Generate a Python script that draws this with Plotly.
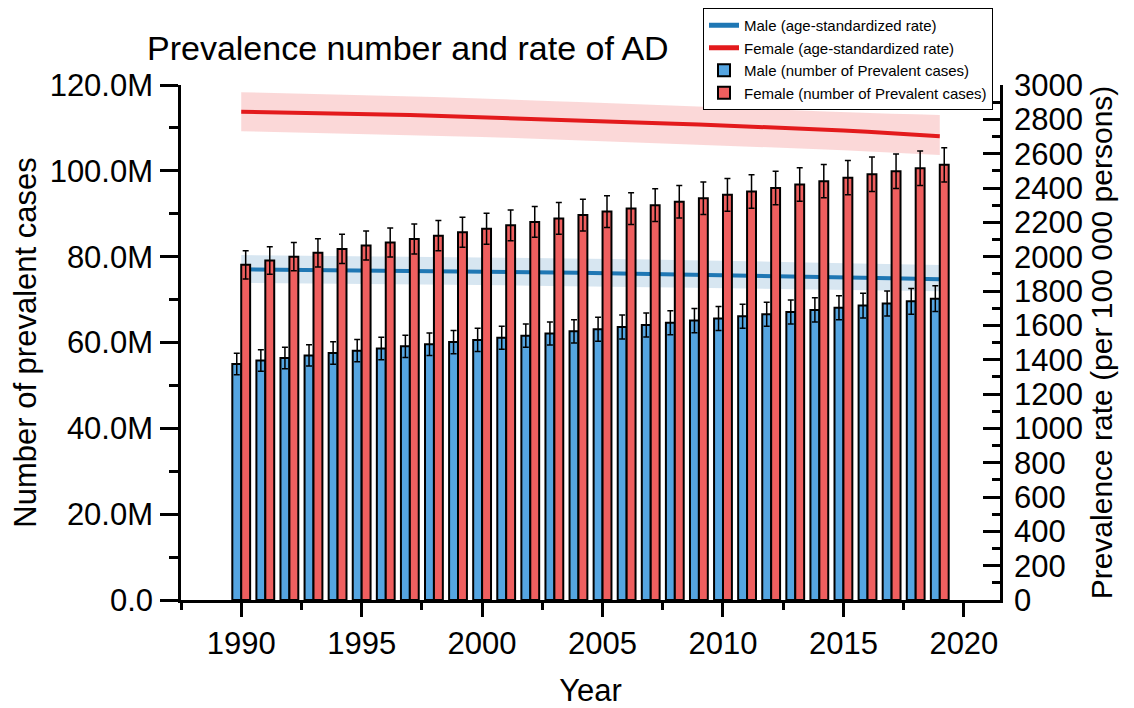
import plotly.graph_objects as go

years = list(range(1990, 2020))

# number of prevalent cases (millions)
male_cases = [55.0, 55.8, 56.4, 57.0, 57.55, 58.1, 58.6, 59.1, 59.6, 60.1,
              60.6, 61.1, 61.6, 62.1, 62.6, 63.1, 63.6, 64.1, 64.6, 65.1,
              65.6, 66.1, 66.6, 67.1, 67.6, 68.1, 68.6, 69.1, 69.6, 70.2]
female_cases = [78.1, 79.1, 80.0, 80.9, 81.8, 82.6, 83.3, 84.1, 84.9, 85.7,
                86.5, 87.3, 88.1, 88.9, 89.7, 90.5, 91.2, 92.0, 92.8, 93.6,
                94.4, 95.2, 96.0, 96.8, 97.6, 98.4, 99.2, 99.9, 100.6, 101.4]
male_err = [2.5, 2.5, 2.5, 2.5, 2.6, 2.6, 2.6, 2.6, 2.6, 2.7,
            2.7, 2.7, 2.7, 2.7, 2.7, 2.8, 2.8, 2.8, 2.8, 2.8,
            2.8, 2.8, 2.8, 2.8, 2.8, 2.8, 2.9, 2.9, 3.0, 3.0]
female_err = [3.3, 3.2, 3.3, 3.3, 3.4, 3.4, 3.4, 3.5, 3.5, 3.5,
              3.6, 3.6, 3.6, 3.7, 3.7, 3.7, 3.7, 3.8, 3.8, 3.8,
              3.8, 3.9, 3.9, 3.9, 3.9, 4.0, 4.0, 4.0, 4.0, 4.0]

# age-standardized rate (per 100 000)
male_rate = [1926, 1925, 1924, 1923, 1922, 1920, 1919, 1917, 1916, 1914,
             1912, 1911, 1909, 1908, 1906, 1904, 1902, 1900, 1898, 1896,
             1893, 1891, 1888, 1885, 1881, 1879, 1877, 1874, 1871, 1868]
male_hi = [2009, 2008, 2007, 2006, 2005, 2003, 2002, 2000, 1999, 1997,
           1995, 1994, 1992, 1991, 1989, 1987, 1985, 1983, 1981, 1979,
           1976, 1974, 1971, 1968, 1964, 1962, 1960, 1957, 1954, 1951]
male_lo = [1848, 1847, 1846, 1845, 1844, 1842, 1841, 1839, 1838, 1836,
           1834, 1833, 1831, 1830, 1828, 1826, 1824, 1822, 1820, 1818,
           1815, 1813, 1811, 1809, 1807, 1805, 1803, 1802, 1800, 1799]
female_rate = [2844, 2842, 2840, 2837, 2835, 2832, 2829, 2825, 2821, 2817,
               2812, 2808, 2803, 2799, 2794, 2790, 2785, 2780, 2775, 2770,
               2765, 2759, 2753, 2747, 2741, 2735, 2727, 2719, 2710, 2702]
female_hi = [2958, 2955, 2952, 2949, 2946, 2942, 2938, 2934, 2930, 2926,
             2920, 2916, 2911, 2906, 2901, 2896, 2891, 2886, 2881, 2876,
             2871, 2865, 2859, 2853, 2847, 2841, 2837, 2833, 2829, 2825]
female_lo = [2731, 2728, 2725, 2721, 2718, 2714, 2710, 2707, 2703, 2700,
             2697, 2693, 2688, 2684, 2679, 2675, 2670, 2665, 2660, 2655,
             2650, 2644, 2638, 2632, 2626, 2620, 2613, 2606, 2599, 2592]

left_ticks = [0, 20, 40, 60, 80, 100, 120]
left_labels = ["0.0", "20.0M", "40.0M", "60.0M", "80.0M", "100.0M", "120.0M"]

M = 1e6
FONT = "Liberation Sans, Arial, sans-serif"
# the page body adds an 8px margin, so the figure is 8px smaller than the window
W, H = 1126, 700

fig = go.Figure()

# rate bands + lines (on the right axis, drawn under the bars)
fig.add_trace(go.Scatter(x=years, y=male_lo, mode="lines", line=dict(width=0),
                         showlegend=False, hoverinfo="skip", yaxis="y"))
fig.add_trace(go.Scatter(x=years, y=male_hi, mode="lines", line=dict(width=0),
                         fill="tonexty", fillcolor="rgba(31,119,180,0.18)",
                         showlegend=False, hoverinfo="skip", yaxis="y"))
fig.add_trace(go.Scatter(x=years, y=female_lo, mode="lines", line=dict(width=0),
                         showlegend=False, hoverinfo="skip", yaxis="y"))
fig.add_trace(go.Scatter(x=years, y=female_hi, mode="lines", line=dict(width=0),
                         fill="tonexty", fillcolor="rgba(240,90,90,0.24)",
                         showlegend=False, hoverinfo="skip", yaxis="y"))
fig.add_trace(go.Scatter(x=years, y=male_rate, mode="lines", name="Male (age-standardized rate)",
                         line=dict(color="#1f77b4", width=4), yaxis="y"))
fig.add_trace(go.Scatter(x=years, y=female_rate, mode="lines", name="Female (age-standardized rate)",
                         line=dict(color="#e31a1c", width=4), yaxis="y"))

# bars (left axis)
fig.add_trace(go.Bar(x=years, y=[v * M for v in male_cases], name="Male (number of Prevalent cases)",
                     offset=-0.37, width=0.37, marker=dict(color="#55a5e1", line=dict(color="black", width=2)),
                     error_y=dict(type="data", array=[e * M for e in male_err], color="black",
                                  thickness=1.5, width=3),
                     yaxis="y2"))
fig.add_trace(go.Bar(x=years, y=[v * M for v in female_cases], name="Female (number of Prevalent cases)",
                     offset=0, width=0.37, marker=dict(color="#ef5f5f", line=dict(color="black", width=2)),
                     error_y=dict(type="data", array=[e * M for e in female_err], color="black",
                                  thickness=1.5, width=3),
                     yaxis="y2"))

fig.update_layout(
    width=W, height=H,
    margin=dict(l=173, r=134, t=77, b=108, autoexpand=False),
    plot_bgcolor="white", paper_bgcolor="white",
    font=dict(family=FONT, color="black"),
    title=dict(text="Prevalence number and rate of AD", font=dict(size=34),
               x=139 / W, xanchor="left", y=1 - 40 / H, yanchor="middle"),
    barmode="group",
    xaxis=dict(range=[1987.5, 2021.5], tick0=1990, dtick=5, showgrid=False,
               showline=True, linewidth=2.5, linecolor="black",
               ticks="outside", ticklen=14, tickwidth=2.5, tickcolor="black",
               minor=dict(ticks="outside", ticklen=7, tickwidth=2.5, tickcolor="black", dtick=2.5),
               tickfont=dict(size=31), ticklabelstandoff=0,
               title=dict(text="Year", font=dict(size=31), standoff=20),
               zeroline=False, automargin=False),
    yaxis=dict(range=[0, 3000], side="right", dtick=200, showgrid=False,
               showline=True, linewidth=2.5, linecolor="black",
               ticks="inside", ticklen=17, tickwidth=2.5, tickcolor="black",
               minor=dict(ticks="inside", ticklen=8, tickwidth=2.5, tickcolor="black", dtick=100),
               tickfont=dict(size=31), ticklabelstandoff=5,
               title=dict(text="Prevalence rate (per 100 000 persons)", font=dict(size=30), standoff=10),
               zeroline=False, automargin=False),
    yaxis2=dict(range=[0, 120 * M], side="left", overlaying="y",
                tickvals=[t * M for t in left_ticks], ticktext=left_labels, showgrid=False,
                showline=True, linewidth=2.5, linecolor="black",
                ticks="outside", ticklen=18, tickwidth=2.5, tickcolor="black",
                minor=dict(ticks="outside", ticklen=9, tickwidth=2.5, tickcolor="black",
                           tickmode="linear", tick0=0, dtick=10 * M),
                tickfont=dict(size=31), ticklabelstandoff=1,
                title=dict(text="Number of prevalent cases", font=dict(size=31), standoff=8),
                zeroline=False, automargin=False),
    legend=dict(x=(695 - 173) / 819, y=(592) / 515, xanchor="left", yanchor="top",
                bordercolor="black", borderwidth=1, bgcolor="white", traceorder="normal",
                font=dict(size=15), tracegroupgap=0, itemsizing="constant"),
    showlegend=True,
)

fig.write_html("out.html")
